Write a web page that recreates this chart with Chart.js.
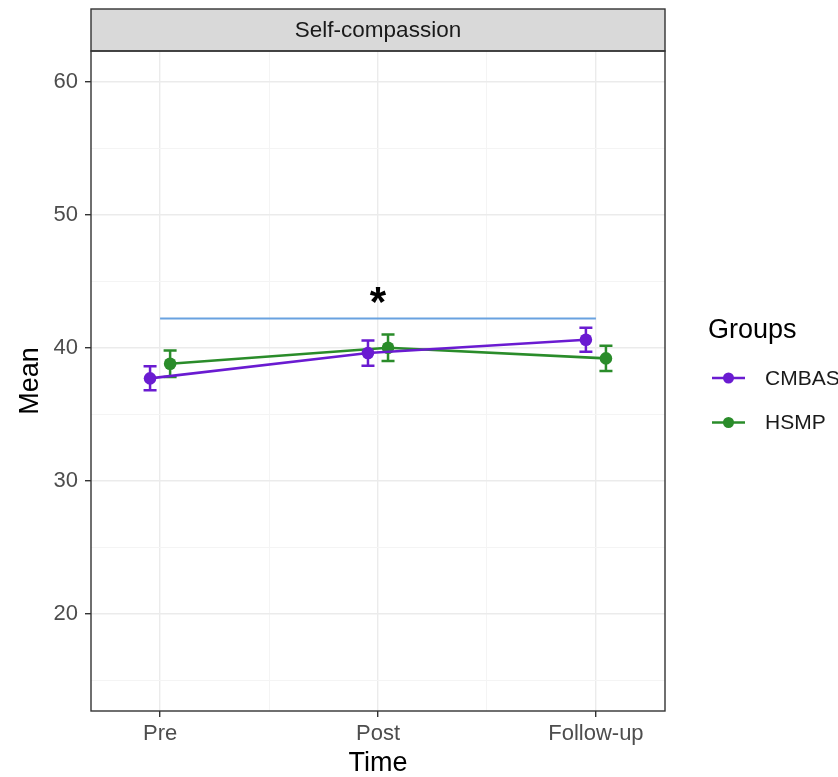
<!DOCTYPE html>
<html>
<head>
<meta charset="utf-8">
<script src="https://cdn.jsdelivr.net/npm/chart.js@4.4.1/dist/chart.umd.min.js"></script>
<style>
  html, body { margin: 0; padding: 0; background: #ffffff; }
  canvas { display: block; }
</style>
</head>
<body>
<canvas id="meanChart" width="838" height="777"></canvas>
<script>
const panelTitle = 'Self-compassion';
const timePoints = ['Pre', 'Post', 'Follow-up'];
const groupNames = ['CMBAS', 'HSMP'];
const cmbasMean = [37.7, 39.6, 40.6];
const cmbasErr = [0.9, 0.95, 0.9];
const hsmpMean = [38.8, 40.0, 39.2];
const hsmpErr = [1.0, 1.0, 0.95];
const sigLineY = [42.2, 42.2];      // bracket drawn from Pre to Follow-up
const sigMark = { x: 2, y: 44.0, text: '*' };
const yTicks = [15, 20, 25, 30, 35, 40, 45, 50, 55, 60];
const xTicks = [1, 1.5, 2, 2.5, 3];

const groupColors = ['#6A1BD1', '#2A8C2A'];
const sigColor = '#69A2E0';
const dodge = 0.046;
const fontFamily = '"Liberation Sans", Arial, Helvetica, sans-serif';

const isMajor = v => Number.isInteger(v / 10);
const isCat = v => Number.isInteger(v);

function points(means, shift) {
    return means.map((m, i) => ({ x: i + 1 + shift, y: m }));
}

const errorBars = {
    id: 'errorBars',
    beforeDatasetsDraw(chart) {
        const ctx = chart.ctx;
        const xs = chart.scales.x, ys = chart.scales.y;
        [[cmbasMean, cmbasErr, -dodge, 0], [hsmpMean, hsmpErr, dodge, 1]].forEach(([means, errs, shift, g]) => {
            ctx.save();
            ctx.strokeStyle = groupColors[g];
            ctx.lineWidth = 2.5;
            means.forEach((m, i) => {
                const px = xs.getPixelForValue(i + 1 + shift);
                const top = ys.getPixelForValue(m + errs[i]);
                const bot = ys.getPixelForValue(m - errs[i]);
                ctx.beginPath();
                ctx.moveTo(px, top); ctx.lineTo(px, bot);
                ctx.moveTo(px - 6.5, top); ctx.lineTo(px + 6.5, top);
                ctx.moveTo(px - 6.5, bot); ctx.lineTo(px + 6.5, bot);
                ctx.stroke();
            });
            ctx.restore();
        });
    }
};

const panelDecor = {
    id: 'panelDecor',
    afterDraw(chart) {
        const ctx = chart.ctx;
        const a = chart.chartArea;
        ctx.save();
        // strip
        ctx.fillStyle = '#D9D9D9';
        ctx.fillRect(a.left, 9, a.right - a.left, a.top - 9);
        ctx.strokeStyle = '#333333';
        ctx.lineWidth = 1.4;
        ctx.strokeRect(a.left, 9, a.right - a.left, a.top - 9);
        ctx.fillStyle = '#1A1A1A';
        ctx.font = '22.5px ' + fontFamily;
        ctx.textAlign = 'center';
        ctx.textBaseline = 'middle';
        ctx.fillText(panelTitle, (a.left + a.right) / 2, (9 + a.top) / 2 + 1);
        // panel border
        ctx.strokeRect(a.left, a.top, a.right - a.left, a.bottom - a.top);

        // significance mark
        ctx.fillStyle = '#000000';
        ctx.font = 'bold 42px ' + fontFamily;
        ctx.textBaseline = 'middle';
        ctx.fillText(sigMark.text, chart.scales.x.getPixelForValue(sigMark.x), chart.scales.y.getPixelForValue(sigMark.y) + 10);

        // legend
        ctx.textAlign = 'left';
        ctx.fillStyle = '#000000';
        ctx.font = '27px ' + fontFamily;
        ctx.fillText('Groups', 708, 331);
        ctx.font = '21px ' + fontFamily;
        groupNames.forEach((name, i) => {
            const y = 378 + i * 44.5;
            ctx.strokeStyle = groupColors[i];
            ctx.fillStyle = groupColors[i];
            ctx.lineWidth = 2.5;
            ctx.beginPath();
            ctx.moveTo(712, y); ctx.lineTo(745, y);
            ctx.stroke();
            ctx.beginPath();
            ctx.arc(728.5, y, 5.5, 0, Math.PI * 2);
            ctx.fill();
            ctx.fillStyle = '#1A1A1A';
            ctx.fillText(name, 765, y + 1);
        });
        ctx.restore();
    }
};

new Chart(document.getElementById('meanChart').getContext('2d'), {
    type: 'line',
    data: {
        datasets: [
            {
                label: 'sig',
                data: [{ x: 1, y: sigLineY[0] }, { x: 3, y: sigLineY[1] }],
                borderColor: sigColor,
                borderWidth: 2,
                pointRadius: 0
            },
            {
                label: groupNames[0],
                data: points(cmbasMean, -dodge),
                borderColor: groupColors[0],
                backgroundColor: groupColors[0],
                borderWidth: 2.6,
                pointRadius: 6.3,
                pointBorderWidth: 0
            },
            {
                label: groupNames[1],
                data: points(hsmpMean, dodge),
                borderColor: groupColors[1],
                backgroundColor: groupColors[1],
                borderWidth: 2.6,
                pointRadius: 6.3,
                pointBorderWidth: 0
            }
        ]
    },
    options: {
        responsive: false,
        animation: false,
        devicePixelRatio: 1,
        layout: { padding: { left: 0, right: 173, top: 51, bottom: 0 } },
        plugins: {
            legend: { display: false },
            tooltip: { enabled: false }
        },
        scales: {
            x: {
                type: 'linear',
                min: 0.683,
                max: 3.317,
                afterBuildTicks: scale => { scale.ticks = xTicks.map(v => ({ value: v })); },
                afterFit: scale => { scale.height = 66; },
                border: { display: false },
                grid: {
                    color: ctx => isCat(ctx.tick.value) ? '#EBEBEB' : '#F4F4F4',
                    lineWidth: ctx => isCat(ctx.tick.value) ? 1.4 : 1,
                    tickColor: ctx => isCat(ctx.tick.value) ? '#333333' : 'rgba(0,0,0,0)',
                    tickLength: 6,
                    tickWidth: 1.4
                },
                ticks: {
                    autoSkip: false,
                    maxRotation: 0,
                    padding: 4,
                    color: '#4D4D4D',
                    font: { family: fontFamily, size: 22 },
                    callback: v => isCat(v) ? timePoints[v - 1] : ''
                },
                title: {
                    display: true,
                    text: 'Time',
                    color: '#000000',
                    font: { family: fontFamily, size: 27, lineHeight: 1.0 },
                    padding: { top: 0, bottom: 0 }
                }
            },
            y: {
                type: 'linear',
                min: 12.7,
                max: 62.3,
                afterBuildTicks: scale => { scale.ticks = yTicks.map(v => ({ value: v })); },
                afterFit: scale => { scale.width = 91; },
                border: { display: false },
                grid: {
                    color: ctx => isMajor(ctx.tick.value) ? '#EBEBEB' : '#F4F4F4',
                    lineWidth: ctx => isMajor(ctx.tick.value) ? 1.4 : 1,
                    tickColor: ctx => isMajor(ctx.tick.value) ? '#333333' : 'rgba(0,0,0,0)',
                    tickLength: 6,
                    tickWidth: 1.4
                },
                ticks: {
                    padding: 7,
                    color: '#4D4D4D',
                    font: { family: fontFamily, size: 22 },
                    callback: v => isMajor(v) ? String(v) : ''
                },
                title: {
                    display: true,
                    text: 'Mean',
                    color: '#000000',
                    font: { family: fontFamily, size: 27, lineHeight: 1.0 },
                    padding: { top: 17, bottom: 0 }
                }
            }
        }
    },
    plugins: [errorBars, panelDecor]
});
</script>
</body>
</html>
